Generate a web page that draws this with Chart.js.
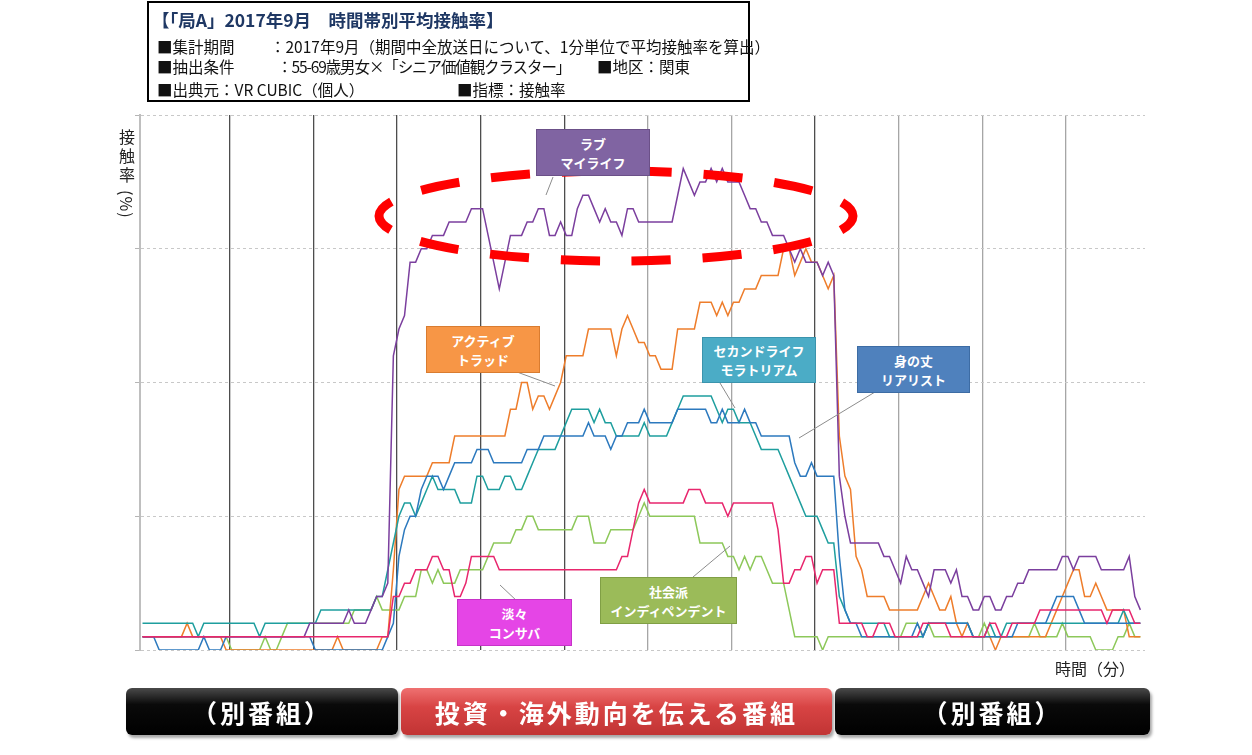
<!DOCTYPE html>
<html lang="ja">
<head>
    <meta charset="UTF-8">
    <title>時間帯別平均接触率</title>
    <script src="https://cdn.jsdelivr.net/npm/chart.js"></script>
    <style>
        body {
            margin: 0;
            background: #fff;
            font-family: "Noto Sans CJK JP", "Noto Sans", sans-serif;
        }
        #wrap {
            position: relative;
            width: 1252px;
            height: 755px;
            overflow: hidden;
        }
        #chart {
            position: absolute;
            left: 0;
            top: 0;
        }
        .header {
            position: absolute;
            left: 147px;
            top: 1px;
            width: 599px;
            height: 97px;
            border: 2px solid #000;
            background: #fff;
        }
        .hl {
            position: absolute;
            white-space: nowrap;
            font-size: 15.5px;
            line-height: 18px;
            color: #111;
        }
        .title {
            position: absolute;
            left: 3px;
            top: 4px;
            white-space: nowrap;
            font-size: 17.5px;
            font-weight: bold;
            color: #1f3864;
        }
        .tag {
            position: absolute;
            display: flex;
            align-items: center;
            justify-content: center;
            text-align: center;
            color: #fff;
            font-weight: bold;
            font-size: 13px;
            line-height: 19px;
            box-sizing: border-box;
        }
        .band {
            position: absolute;
            top: 688px;
            height: 47px;
            border-radius: 6px;
            display: flex;
            align-items: center;
            justify-content: center;
            color: #fff;
            font-weight: bold;
            font-size: 25px;
            letter-spacing: 3px;
            box-shadow: 2px 3px 3px rgba(0, 0, 0, 0.35);
        }
        .band.black {
            background: linear-gradient(#4a4a4a, #0a0a0a 35%, #000);
        }
        .band.red {
            background: linear-gradient(#ef7171, #d84444 40%, #c13434);
        }
        .ytitle {
            position: absolute;
            left: 115px;
            top: 129px;
            writing-mode: vertical-rl;
            font-size: 16px;
            letter-spacing: 3px;
            color: #222;
        }
        .yunit {
            position: absolute;
            left: 115px;
            top: 190px;
            writing-mode: vertical-rl;
            text-orientation: sideways;
            font-size: 16px;
            letter-spacing: 1px;
            color: #222;
        }
        .xtitle {
            position: absolute;
            left: 1055px;
            top: 656px;
            font-size: 16px;
            color: #222;
        }
    </style>
</head>
<body>
<div id="wrap">
    <canvas id="chart" width="1252" height="755"></canvas>

    <div class="header">
        <div class="title">【「局A」2017年9月　時間帯別平均接触率】</div>
        <div class="hl" style="left:8px; top:34px;">■集計期間</div>
        <div class="hl" style="left:121px; top:34px;">：2017年9月（期間中全放送日について、1分単位で平均接触率を算出）</div>
        <div class="hl" style="left:8px; top:54px;">■抽出条件</div>
        <div class="hl" style="left:128px; top:54px; letter-spacing:-1.1px;">：55-69歳男女×「シニア価値観クラスター」</div>
        <div class="hl" style="left:448px; top:54px;">■地区：関東</div>
        <div class="hl" style="left:8px; top:77px;">■出典元：VR CUBIC（個人）</div>
        <div class="hl" style="left:308px; top:77px;">■指標：接触率</div>
    </div>

    <div class="ytitle">接触率</div>
    <div class="yunit">(%)</div>
    <div class="xtitle">時間（分）</div>

    <div class="tag" style="left:536px; top:129px; width:114px; height:47px; background:#8064a2; border:1px solid #6b5088;">ラブ<br>マイライフ</div>
    <div class="tag" style="left:426px; top:326px; width:114px; height:47px; background:#f79646; border:1px solid #d97c30;">アクティブ<br>トラッド</div>
    <div class="tag" style="left:702px; top:337px; width:114px; height:46px; background:#4bacc6; border:1px solid #3b94ad;">セカンドライフ<br>モラトリアム</div>
    <div class="tag" style="left:857px; top:346px; width:113px; height:47px; background:#4f81bd; border:1px solid #3d6ca4;">身の丈<br>リアリスト</div>
    <div class="tag" style="left:457px; top:599px; width:115px; height:47px; background:#e545e6; border:1px solid #c733c8;">淡々<br>コンサバ</div>
    <div class="tag" style="left:600px; top:577px; width:137px; height:47px; background:#9bbb59; border:1px solid #809f45;">社会派<br>インディペンデント</div>

    <div class="band black" style="left:126px; width:272px;">（別番組）</div>
    <div class="band red" style="left:401px; width:431px;">投資・海外動向を伝える番組</div>
    <div class="band black" style="left:835px; width:315px;">（別番組）</div>
</div>

<script>
    // minute index of each sample (1-minute resolution)
    const minutes = Array.from({ length: 180 }, (_, i) => i);

    // quarter-hour separators (between minute samples)
    const quarterMarks = [15.65, 30.65, 45.65, 60.65, 75.65, 90.65, 105.65, 120.65, 135.65, 150.65, 165.65];
    const darkMarks = [0, 1, 2, 3, 4, 7];

    // contact rate per cluster (units of 1/10 of a grid step)
    const loveMyLife = [
        1, 1, 1, 1, 1, 1, 1, 1, 1, 1,
        1, 1, 1, 1, 1, 1, 1, 1, 1, 1,
        1, 1, 1, 1, 1, 1, 1, 1, 1, 1,
        2, 2, 2, 2, 2, 2, 2, 3, 2, 2,
        2, 3, 4, 4, 5, 22, 24, 25, 29, 29,
        30, 30, 31, 31, 31, 32, 32, 32, 32, 33,
        33, 33, 31, 29, 27, 29, 31, 31, 31, 32,
        32, 33, 33, 31, 31, 32, 31, 31, 33, 34,
        34, 33, 32, 33, 32, 32, 31, 33, 33, 32,
        32, 32, 32, 32, 32, 32, 34, 36, 35, 34,
        35, 35, 36, 35, 36, 35, 35, 35, 34, 33,
        33, 32, 32, 31, 31, 31, 30, 29, 30, 29,
        29, 29, 28, 29, 28, 13, 10, 8, 8, 8,
        8, 8, 8, 7, 7, 6, 5, 7, 6, 6,
        5, 4, 6, 6, 6, 5, 6, 4, 4, 3,
        3, 4, 4, 3, 3, 4, 4, 5, 5, 6,
        6, 6, 6, 6, 6, 7, 7, 6, 7, 7,
        7, 7, 6, 6, 6, 6, 6, 7, 4, 3
    ];
    const activeTrad = [
        1, 1, 1, 1, 1, 1, 1, 1, 2, 1,
        1, 1, 1, 1, 1, 0, 0, 0, 0, 0,
        0, 0, 0, 0, 0, 0, 0, 0, 0, 0,
        0, 0, 0, 0, 0, 1, 0, 0, 0, 0,
        0, 0, 0, 1, 1, 6, 12, 13, 13, 13,
        13, 13, 14, 14, 14, 14, 16, 16, 16, 16,
        16, 16, 16, 16, 16, 16, 18, 18, 20, 20,
        18, 19, 19, 18, 19, 20, 22, 22, 22, 22,
        24, 24, 24, 24, 24, 22, 24, 25, 24, 23,
        23, 22, 22, 21, 21, 21, 24, 24, 24, 24,
        26, 26, 26, 25, 26, 25, 26, 26, 27, 27,
        27, 28, 28, 28, 28, 30, 30, 28, 29, 30,
        29, 29, 28, 27, 28, 16, 13, 12, 7, 6,
        4, 4, 4, 4, 3, 3, 3, 3, 3, 3,
        4, 5, 4, 3, 3, 4, 2, 1, 2, 1,
        1, 1, 1, 0, 1, 1, 1, 1, 1, 1,
        1, 1, 1, 2, 3, 4, 5, 6, 6, 4,
        4, 5, 4, 3, 3, 3, 3, 1, 1, 1
    ];
    const realist = [
        1, 1, 1, 0, 0, 0, 0, 0, 0, 0,
        0, 1, 0, 0, 0, 1, 1, 1, 1, 1,
        1, 1, 1, 1, 1, 1, 1, 1, 1, 1,
        1, 0, 0, 0, 0, 0, 0, 0, 0, 0,
        0, 0, 0, 0, 1, 2, 7, 9, 10, 10,
        12, 13, 13, 13, 12, 13, 14, 14, 14, 14,
        15, 15, 15, 14, 14, 14, 14, 14, 14, 15,
        15, 15, 16, 16, 16, 16, 16, 16, 16, 16,
        17, 16, 16, 16, 15, 16, 16, 17, 17, 17,
        18, 17, 17, 17, 17, 17, 18, 18, 18, 18,
        18, 18, 17, 17, 18, 17, 17, 17, 18, 17,
        17, 16, 16, 16, 16, 16, 16, 14, 13, 13,
        14, 13, 13, 13, 13, 7, 3, 2, 2, 1,
        1, 1, 1, 1, 1, 1, 1, 1, 1, 2,
        1, 2, 2, 2, 2, 2, 2, 2, 2, 1,
        1, 1, 1, 1, 1, 1, 1, 2, 2, 2,
        2, 2, 2, 3, 4, 4, 4, 4, 3, 2,
        2, 2, 2, 2, 2, 2, 2, 2, 2, 2
    ];
    const moratorium = [
        2, 2, 2, 2, 2, 2, 2, 2, 2, 2,
        1, 2, 2, 2, 2, 2, 2, 2, 2, 2,
        2, 1, 2, 2, 2, 2, 2, 2, 2, 2,
        2, 2, 3, 3, 3, 3, 3, 3, 3, 3,
        3, 3, 4, 4, 6, 8, 10, 11, 11, 10,
        11, 12, 13, 12, 12, 12, 12, 11, 11, 11,
        13, 13, 12, 12, 12, 13, 13, 12, 12, 13,
        14, 15, 15, 15, 15, 16, 17, 18, 18, 18,
        18, 17, 18, 17, 17, 16, 16, 16, 16, 16,
        17, 16, 16, 16, 16, 17, 18, 19, 19, 19,
        19, 19, 19, 18, 17, 18, 18, 17, 17, 17,
        16, 15, 15, 15, 15, 14, 13, 12, 11, 10,
        10, 10, 9, 8, 8, 4, 3, 2, 2, 2,
        2, 2, 2, 2, 1, 1, 1, 1, 1, 1,
        1, 2, 2, 2, 2, 2, 2, 2, 2, 1,
        1, 1, 2, 1, 1, 2, 2, 2, 2, 2,
        2, 2, 2, 2, 2, 2, 2, 2, 2, 2,
        2, 2, 2, 2, 2, 2, 3, 2, 2, 2
    ];
    const conserva = [
        1, 1, 1, 1, 1, 1, 1, 1, 1, 1,
        1, 1, 1, 1, 1, 1, 1, 1, 1, 1,
        1, 1, 1, 1, 1, 1, 1, 1, 1, 1,
        1, 1, 1, 1, 1, 1, 1, 1, 1, 1,
        1, 1, 1, 1, 1, 4, 4, 5, 5, 6,
        6, 6, 7, 7, 6, 6, 4, 4, 5, 7,
        7, 7, 7, 7, 6, 6, 6, 6, 6, 6,
        6, 6, 6, 6, 6, 6, 6, 6, 6, 6,
        6, 6, 6, 6, 6, 6, 7, 7, 9, 11,
        12, 11, 11, 11, 11, 11, 11, 11, 12, 12,
        12, 11, 11, 11, 11, 10, 11, 11, 11, 11,
        11, 11, 11, 11, 9, 5, 5, 6, 6, 7,
        7, 5, 6, 6, 6, 2, 2, 2, 2, 2,
        1, 1, 2, 2, 2, 1, 1, 1, 1, 1,
        2, 2, 2, 2, 2, 1, 1, 1, 1, 1,
        1, 1, 2, 2, 1, 1, 2, 2, 2, 2,
        2, 3, 3, 3, 3, 3, 3, 3, 3, 3,
        3, 3, 3, 2, 3, 3, 3, 3, 2, 2
    ];
    const independent = [
        1, 1, 1, 1, 1, 1, 1, 1, 1, 1,
        1, 1, 1, 1, 1, 1, 0, 0, 0, 0,
        0, 0, 1, 0, 0, 1, 2, 2, 2, 2,
        2, 2, 2, 2, 2, 2, 2, 2, 3, 3,
        3, 3, 4, 3, 3, 3, 3, 4, 4, 4,
        6, 6, 5, 6, 5, 5, 5, 6, 6, 6,
        6, 6, 7, 8, 8, 8, 8, 9, 9, 10,
        10, 9, 9, 9, 9, 9, 9, 9, 10, 10,
        10, 8, 8, 8, 9, 9, 9, 9, 9, 10,
        11, 10, 10, 10, 10, 10, 10, 10, 10, 10,
        8, 8, 8, 8, 8, 7, 7, 6, 7, 6,
        7, 7, 6, 5, 5, 5, 3, 1, 1, 1,
        1, 1, 0, 1, 1, 1, 1, 1, 1, 1,
        1, 1, 1, 1, 1, 1, 1, 2, 2, 2,
        1, 2, 1, 1, 1, 1, 1, 1, 1, 1,
        1, 2, 1, 1, 1, 1, 1, 1, 1, 1,
        2, 1, 1, 1, 1, 2, 1, 1, 1, 1,
        1, 0, 0, 0, 0, 1, 1, 2, 1, 1
    ];

    // red dashed ellipse and leader lines of the cluster tags
    const overlayPlugin = {
        id: 'overlay',
        afterDatasetsDraw(chart) {
            const ctx = chart.ctx;
            ctx.save();
            ctx.strokeStyle = '#8c8c8c';
            ctx.lineWidth = 1;
            [
                [553, 177, 546, 195],
                [517, 372, 555, 386],
                [720, 383, 735, 408],
                [875, 392, 799, 438],
                [500, 585, 518, 602],
                [693, 577, 730, 546]
            ].forEach(l => {
                ctx.beginPath();
                ctx.moveTo(l[0], l[1]);
                ctx.lineTo(l[2], l[3]);
                ctx.stroke();
            });
            ctx.strokeStyle = '#ff0000';
            ctx.lineWidth = 9;
            ctx.setLineDash([39, 31.9]);
            ctx.lineDashOffset = 19.5;
            ctx.beginPath();
            ctx.ellipse(616, 216, 237, 45, 0, 0, Math.PI * 2);
            ctx.stroke();
            ctx.restore();
        }
    };

    function makeSet(data, color) {
        return {
            data: data,
            borderColor: color,
            borderWidth: 1.5,
            pointRadius: 0,
            tension: 0,
            fill: false
        };
    }

    const ctx = document.getElementById('chart').getContext('2d');
    new Chart(ctx, {
        type: 'line',
        data: {
            labels: minutes,
            datasets: [
                makeSet(conserva, '#e8266d'),
                makeSet(loveMyLife, '#7b3f9e'),
                makeSet(realist, '#2c79be'),
                makeSet(moratorium, '#1e9e9e'),
                makeSet(activeTrad, '#ee7d2b'),
                makeSet(independent, '#8dc85a')
            ]
        },
        options: {
            responsive: false,
            animation: false,
            layout: {
                padding: { left: 0, top: 115, right: 107, bottom: 105 }
            },
            plugins: {
                legend: { display: false },
                tooltip: { enabled: false }
            },
            scales: {
                x: {
                    type: 'linear',
                    min: -0.45,
                    max: 179.83,
                    afterBuildTicks: s => {
                        s.ticks = quarterMarks.map(v => ({ value: v }));
                    },
                    afterFit: s => {
                        s.height = 0;
                    },
                    ticks: { display: false },
                    grid: {
                        color: c => darkMarks.includes(c.index) ? '#4d4d4d' : '#a6a6a6',
                        lineWidth: 1.3,
                        drawTicks: false
                    },
                    border: { display: false }
                },
                y: {
                    min: 0,
                    max: 40,
                    afterFit: s => {
                        s.width = 140;
                    },
                    ticks: { display: false, stepSize: 10 },
                    grid: {
                        color: '#c8c8c8',
                        lineWidth: 1,
                        tickLength: 5,
                        tickColor: '#b5b5b5'
                    },
                    border: { display: true, color: '#bfbfbf', width: 2, dash: [3, 3] }
                }
            }
        },
        plugins: [overlayPlugin]
    });
</script>
</body>
</html>
